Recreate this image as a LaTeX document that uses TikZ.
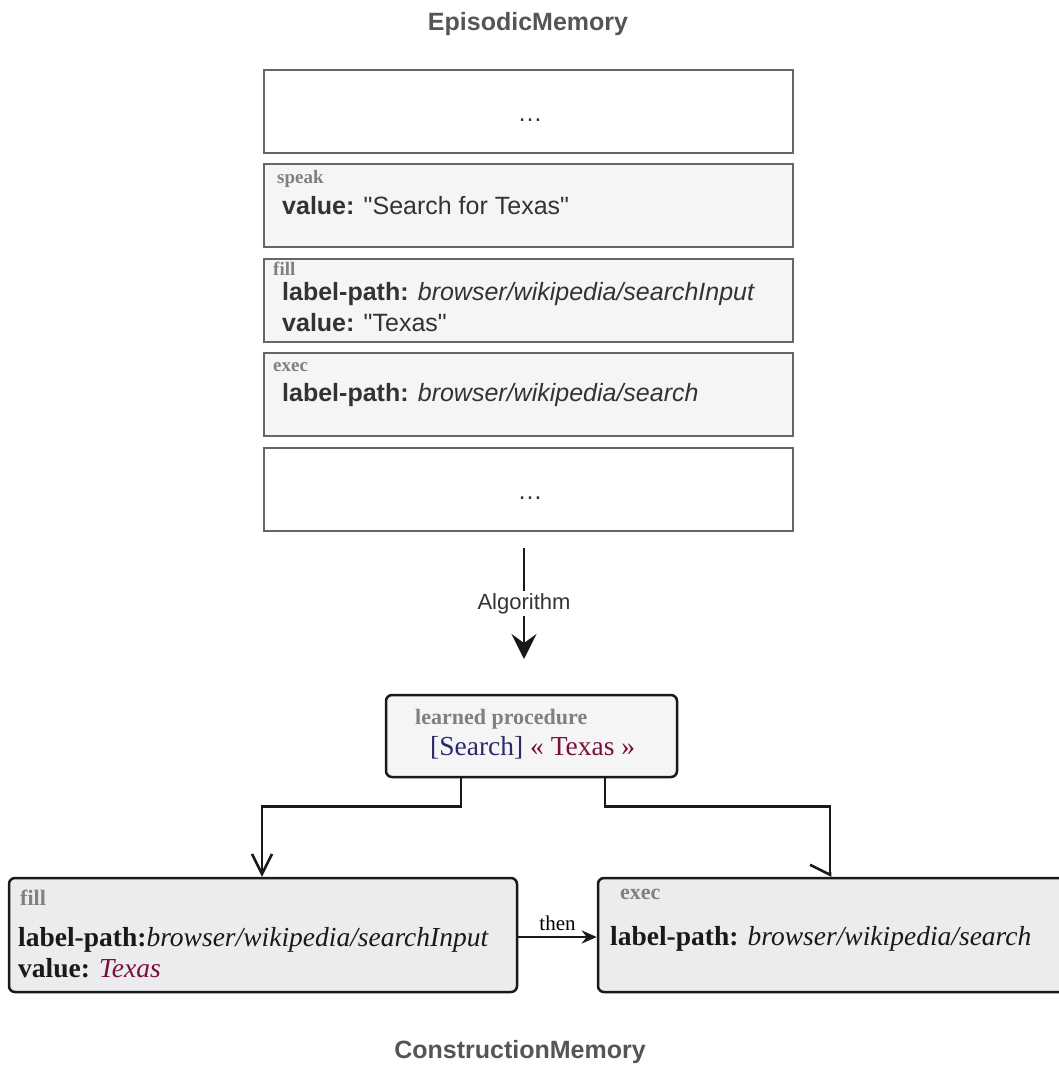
\documentclass[tikz,border=0pt]{standalone}
\usepackage{fontspec}
\setmainfont{Liberation Serif}
\setsansfont{Liberation Sans}
\usetikzlibrary{arrows.meta}

\definecolor{boxgray}{HTML}{666666}
\definecolor{panel}{HTML}{F5F5F5}
\definecolor{panelb}{HTML}{ECECEE}
\definecolor{tagtext}{HTML}{808080}
\definecolor{ink}{HTML}{333333}
\definecolor{titlegray}{HTML}{555555}
\definecolor{navy}{HTML}{2B2B6B}
\definecolor{wine}{HTML}{7A0F3F}

\tikzset{
    epbox/.style = {draw = boxgray, line width = 2.5pt, fill = white,
        minimum width = 529pt, minimum height = 83pt, inner sep = 0pt},
    cmbox/.style = {draw = black!90, line width = 2.5pt, fill = panelb,
        rounded corners = 6pt, inner sep = 0pt},
    tag/.style = {anchor = base west, inner sep = 0pt, text = tagtext,
        font = \bfseries\fontsize{19}{22}\selectfont},
    eptext/.style = {anchor = base west, inner sep = 0pt, text = ink,
        font = \sffamily\fontsize{25}{30}\selectfont},
    cmtext/.style = {anchor = base west, inner sep = 0pt, text = black!90,
        font = \fontsize{27.5}{32}\selectfont},
    title/.style = {anchor = base, inner sep = 0pt, text = titlegray,
        font = \sffamily\bfseries\fontsize{25}{30}\selectfont},
    link/.style = {draw = black!90, line width = 2.5pt}
}

\begin{document}
\begin{tikzpicture}[x = 1pt, y = -1pt]
    \useasboundingbox (0, 0) rectangle (1059, 1066);

    \node[title] (epi) at (528, 30) {EpisodicMemory};
    \node[title] (cons) at (520, 1058) {ConstructionMemory};

    % episodic memory
    \node[epbox] (ep1) at (528.5, 111.5) {};
    \node[epbox, fill = panel] (ep2) at (528.5, 205.5) {};
    \node[epbox, fill = panel] (ep3) at (528.5, 300.5) {};
    \node[epbox, fill = panel] (ep4) at (528.5, 394.5) {};
    \node[epbox] (ep5) at (528.5, 489.5) {};

    \node[eptext, anchor = base] at (530, 121) {\ldots};
    \node[eptext, anchor = base] at (530, 499) {\ldots};

    \node[tag] at (277, 183) {speak};
    \node[eptext] at (282, 214) {\textbf{value:} \textquotedbl Search for Texas\textquotedbl};
    \node[tag] at (273, 275) {fill};
    \node[eptext] at (282, 300) {\textbf{label-path:} \textit{browser/wikipedia/searchInput}};
    \node[eptext] at (282, 331) {\textbf{value:} \textquotedbl Texas\textquotedbl};
    \node[tag] at (273, 371) {exec};
    \node[eptext] at (282, 401) {\textbf{label-path:} \textit{browser/wikipedia/search}};

    \coordinate (algtop) at (524, 548);
    \coordinate (algbot) at (524, 659);
    \draw[link, -{Stealth[length = 25pt, width = 25pt, inset = 9pt]}] (algtop) -- (algbot)
        node[pos = 0.5, fill = white, text = ink, inner sep = 2pt,
            font = \sffamily\fontsize{22}{26}\selectfont] {Algorithm};

    % learned procedure
    \node[cmbox, fill = panel, minimum width = 291pt, minimum height = 82pt] (proc) at (531.5, 736) {};
    \node[tag, font = \bfseries\fontsize{22}{26}\selectfont] at (415, 724) {learned procedure};
    \node[cmtext] at (430, 755) {\textcolor{navy}{[Search]} \textcolor{wine}{« Texas »}};

    % construction memory
    \node[cmbox, minimum width = 508pt, minimum height = 114pt] (cfill) at (263, 935) {};
    \node[cmbox, minimum width = 480pt, minimum height = 114pt] (cexec) at (838, 935) {};

    \node[tag, font = \bfseries\fontsize{22}{26}\selectfont] at (20, 905) {fill};
    \node[cmtext] at (18, 946) {\textbf{label-path:}\textit{browser/wikipedia/searchInput}};
    \node[cmtext] at (18, 977) {\textbf{value:} \textcolor{wine}{\textit{Texas}}};
    \node[tag, font = \bfseries\fontsize{22}{26}\selectfont] at (620, 899) {exec};
    \node[cmtext] at (610, 945) {\textbf{label-path:} \textit{browser/wikipedia/search}};

    \draw[link, -{Straight Barb[length = 20pt, width = 20pt]}]
        ([xshift = -70.5pt]proc.south) |- ++(0, 28) -| (cfill.north -| 262, 0);
    \draw[link, -{Straight Barb[right, length = 10pt, width = 40pt]}]
        ([xshift = 73.5pt]proc.south) |- ++(0, 28) -| (cexec.north -| 830, 0);
    \draw[link, -{Stealth[length = 15pt, width = 13pt]}] (cfill.east |- 0, 937) -- (cexec.west |- 0, 937)
        node[midway, above = 5pt, inner sep = 0pt, font = \fontsize{21}{25}\selectfont] {then};
\end{tikzpicture}
\end{document}
